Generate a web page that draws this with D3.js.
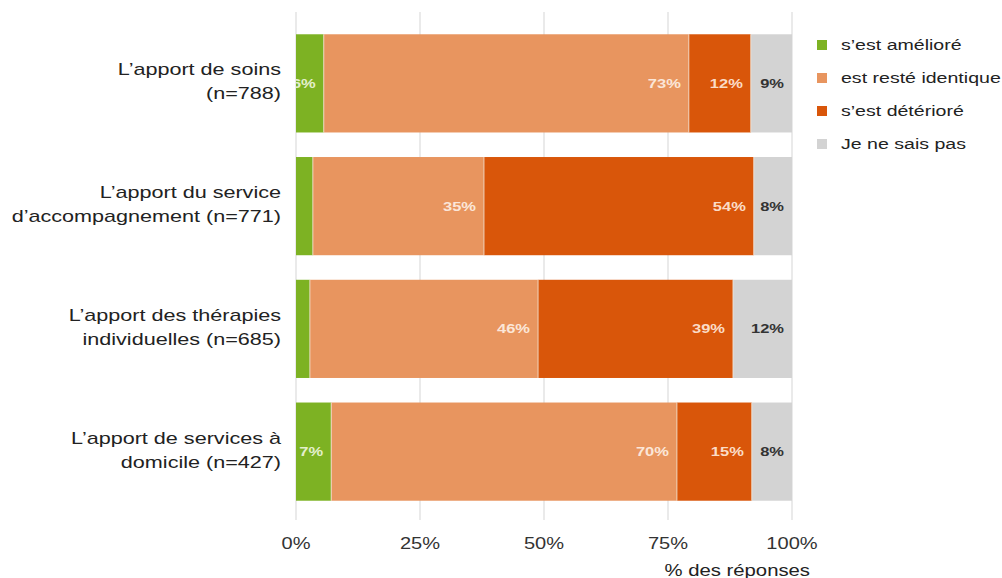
<!DOCTYPE html>
<html><head><meta charset="utf-8">
<script src="https://cdn.jsdelivr.net/npm/d3@7"></script>
<style>body{margin:0;background:#fff}svg{display:block;font-family:"Liberation Sans",Arial,sans-serif}</style>
</head><body>
<svg id="c" width="1002" height="578"></svg>
<script>
const categories = [
  ["L\u2019apport de soins", "(n=788)"],
  ["L\u2019apport du service", "d\u2019accompagnement (n=771)"],
  ["L\u2019apport des thérapies", "individuelles (n=685)"],
  ["L\u2019apport de services à", "domicile (n=427)"]
];
const seriesNames = ["s\u2019est amélioré", "est resté identique", "s\u2019est détérioré", "Je ne sais pas"];
const ameliore  = [5.6, 3.4, 2.8, 7.1];
const identique = [73.6, 34.5, 46.0, 69.7];
const deteriore = [12.5, 54.4, 39.3, 15.1];
const nsp       = [8.3, 7.7, 11.9, 8.1];
const labelsAmeliore  = ["6%", "", "", "7%"];
const labelsIdentique = ["73%", "35%", "46%", "70%"];
const labelsDeteriore = ["12%", "54%", "39%", "15%"];
const labelsNsp       = ["9%", "8%", "12%", "8%"];
const tickValues = [0, 25, 50, 75, 100];
const axisTitle = "% des réponses";
const colors = ["#7db223", "#e8955f", "#d9560a", "#d3d3d3"];
const labelColors = ["#e3efcc", "#fbe6d8", "#fbdcc6", "#333333"];

const SX = 1.27; // horizontal stretch of the reference's text

const svg = d3.select("#c");
const x = d3.scaleLinear().domain([0, 100]).range([296, 792]);
const y = d3.scaleBand().domain(d3.range(categories.length)).range([22, 513]).paddingInner(0.2).paddingOuter(0.1);

function txt(parent, px, py, s, size, anchor, fill, weight) {
  return parent.append("text")
    .attr("transform", `translate(${px},${py}) scale(${SX},1)`)
    .attr("dy", "0.35em").attr("text-anchor", anchor)
    .attr("font-size", size).attr("fill", fill)
    .attr("font-weight", weight || "normal").text(s);
}

const series = [ameliore, identique, deteriore, nsp];
const labels = [labelsAmeliore, labelsIdentique, labelsDeteriore, labelsNsp];

// gridlines
svg.append("g").selectAll("line").data(tickValues).join("line")
  .attr("x1", d => x(d)).attr("x2", d => x(d))
  .attr("y1", 12).attr("y2", 520)
  .attr("stroke", "#dcdcdc").attr("stroke-width", 1.2);

const defs = svg.append("defs");
const g = svg.append("g");
categories.forEach((cat, i) => {
  let start = 0;
  series.forEach((s, k) => {
    const v = s[i];
    const x0 = x(start), x1 = x(start + v);
    const id = `clip-${i}-${k}`;
    defs.append("clipPath").attr("id", id).append("rect")
      .attr("x", x0).attr("y", y(i)).attr("width", x1 - x0).attr("height", y.bandwidth());
    g.append("rect").attr("x", x0).attr("y", y(i))
      .attr("width", x1 - x0).attr("height", y.bandwidth())
      .attr("fill", colors[k]);
    if (k > 0) {
      g.append("line").attr("x1", x0).attr("x2", x0)
        .attr("y1", y(i)).attr("y2", y(i) + y.bandwidth())
        .attr("stroke", "#f3e6d8").attr("stroke-width", 1).attr("opacity", 0.8);
    }
    const lab = labels[k][i];
    if (lab) {
      const lg = g.append("g").attr("clip-path", `url(#${id})`);
      txt(lg, x1 - 8, y(i) + y.bandwidth() / 2, lab, 13, "end", labelColors[k], "bold");
    }
    start += v;
  });
  const cy = y(i) + y.bandwidth() / 2;
  txt(svg, 281, cy - 14, cat[0], 17, "end", "#222");
  txt(svg, 281, cy + 10, cat[1], 17, "end", "#222");
});

// x axis tick labels
tickValues.forEach(d => txt(svg, x(d), 543, d + "%", 15.8, "middle", "#333"));
txt(svg, 810, 570, axisTitle, 16, "end", "#222");

// legend
const leg = svg.append("g");
seriesNames.forEach((n, k) => {
  const ly = 45 + k * 33;
  leg.append("rect").attr("x", 817).attr("y", ly - 5).attr("width", 10).attr("height", 10).attr("fill", colors[k]);
  txt(leg, 841, ly, n, 15.4, "start", "#222");
});
</script>
</body></html>
